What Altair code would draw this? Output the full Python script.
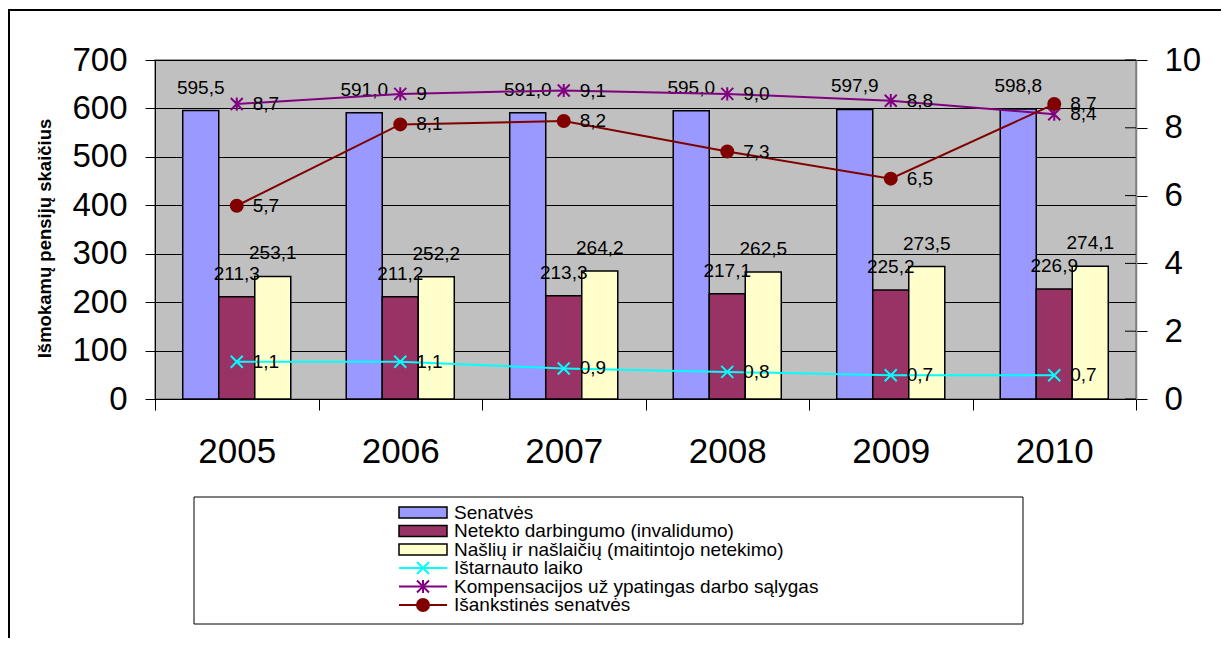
import altair as alt
import pandas as pd

# ---------------- data ----------------
years = ["2005", "2006", "2007", "2008", "2009", "2010"]

senatves = [595.5, 591.0, 591.0, 595.0, 597.9, 598.8]
netekto = [211.3, 211.2, 213.3, 217.1, 225.2, 226.9]
nasliu = [253.1, 252.2, 264.2, 262.5, 273.5, 274.1]

istarnauto = [1.1, 1.1, 0.9, 0.8, 0.7, 0.7]
kompensacijos = [8.7, 9.0, 9.1, 9.0, 8.8, 8.4]
isankstines = [5.7, 8.1, 8.2, 7.3, 6.5, 8.7]

istarnauto_labels = ["1,1", "1,1", "0,9", "0,8", "0,7", "0,7"]
kompensacijos_labels = ["8,7", "9", "9,1", "9,0", "8,8", "8,4"]
isankstines_labels = ["5,7", "8,1", "8,2", "7,3", "6,5", "8,7"]

bar_series = ["Senatvės",
              "Netekto darbingumo (invalidumo)",
              "Našlių ir našlaičių (maitintojo netekimo)"]
line_series = ["Ištarnauto laiko",
               "Kompensacijos už ypatingas darbo sąlygas",
               "Išankstinės senatvės"]
series_colors = ["#9999FF", "#993366", "#FFFFCC", "#00FFFF", "#800080", "#800000"]

left_ticks = [0, 100, 200, 300, 400, 500, 600, 700]
right_ticks = [0, 2, 4, 6, 8, 10]
y_title = "Išmokamų pensijų skaičius"

# ---------------- tables ----------------
bar_rows = []
for name, vals in zip(bar_series, [senatves, netekto, nasliu]):
    for y, v in zip(years, vals):
        bar_rows.append({"year": y, "series": name, "value": v,
                         "label": f"{v:.1f}".replace(".", ",")})
bar_df = pd.DataFrame(bar_rows)

line_rows = []
for name, vals, labs in zip(line_series,
                            [istarnauto, kompensacijos, isankstines],
                            [istarnauto_labels, kompensacijos_labels, isankstines_labels]):
    for y, v, l in zip(years, vals, labs):
        line_rows.append({"year": y, "series": name, "value": v, "label": l})
line_df = pd.DataFrame(line_rows)

all_series = bar_series + line_series
legend_df = pd.DataFrame({"series": all_series,
                          "row": list(range(len(all_series)))})
legend_df["lo"] = legend_df["row"] - 0.3
legend_df["hi"] = legend_df["row"] + 0.3
legend_bars = legend_df[legend_df["series"].isin(bar_series)]
legend_lines = legend_df[legend_df["series"].isin(line_series)]

rtick_df = pd.DataFrame({"value": right_ticks})
one = pd.DataFrame({"a": [0]})

# ---------------- scales / encodings ----------------
FONT = "Liberation Sans"
X_PATH = "M-1,-1L1,1M-1,1L1,-1"
STAR_PATH = "M-1,-1L1,1M-1,1L1,-1M0,-1.1L0,1.1"

color_scale = alt.Scale(domain=all_series, range=series_colors)
shape_scale = alt.Scale(domain=line_series, range=[X_PATH, STAR_PATH, "circle"])
size_scale = alt.Scale(domain=line_series, range=[144, 144, 64])

x_enc = alt.X("year:N", sort=years,
              scale=alt.Scale(paddingInner=0, paddingOuter=0),
              axis=alt.Axis(title=None, labelAngle=0, tickBand="extent",
                            tickSize=11, tickColor="black", domainColor="black",
                            labelFontSize=35, labelPadding=24, labelColor="black",
                            labelFont=FONT, grid=False))
xoff_enc = alt.XOffset("series:N", sort=bar_series,
                       scale=alt.Scale(domain=bar_series, paddingInner=0, paddingOuter=0.77))

y_left = alt.Y("value:Q", scale=alt.Scale(domain=[0, 700], nice=False),
               axis=alt.Axis(orient="left", values=left_ticks, grid=True,
                             gridColor="black", gridWidth=1, tickColor="black",
                             tickSize=10, domainColor="black", labelFontSize=33,
                             labelPadding=18, labelColor="black", labelFont=FONT,
                             title=y_title, titleFont=FONT, titleFontSize=18.5,
                             titleFontWeight="bold", titleX=-105, titleY=178,
                             titleBaseline="alphabetic", titleAngle=270,
                             titleAlign="center", titleColor="black"))

y_right_scale = alt.Scale(domain=[0, 10], nice=False)
right_axis = alt.Axis(orient="right", values=right_ticks, grid=False,
                      tickColor="black", tickSize=11, domainColor="#808080",
                      domainWidth=1.5, labelFontSize=33, labelPadding=17,
                      labelColor="black", labelFont=FONT, title=None)
y_right = alt.Y("value:Q", scale=y_right_scale, axis=right_axis)

# ---------------- bars ----------------
bars = alt.Chart(bar_df).mark_bar(stroke="black", strokeWidth=1.5).encode(
    x=x_enc, xOffset=xoff_enc, y=y_left,
    color=alt.Color("series:N", scale=color_scale, legend=None),
)
bar_text = alt.Chart(bar_df).mark_text(baseline="alphabetic", dy=-17, fontSize=19,
                                       color="black", font=FONT).encode(
    x=x_enc, xOffset=xoff_enc, y=y_left, text="label:N",
)
bar_group = alt.layer(bars, bar_text)

# ---------------- lines ----------------
inner_ticks = alt.Chart(rtick_df).mark_rule(color="black", strokeWidth=1).encode(
    y=y_right, x=alt.value(970), x2=alt.value(981),
)
lines = alt.Chart(line_df).mark_line(strokeWidth=2).encode(
    x=x_enc, y=y_right,
    color=alt.Color("series:N", scale=color_scale, legend=None),
)
points = alt.Chart(line_df).mark_point(filled=True, strokeWidth=2, opacity=1).encode(
    x=x_enc, y=y_right,
    color=alt.Color("series:N", scale=color_scale, legend=None),
    stroke=alt.Stroke("series:N", scale=color_scale, legend=None),
    shape=alt.Shape("series:N", scale=shape_scale, legend=None),
    size=alt.Size("series:N", scale=size_scale, legend=None),
)
line_text = alt.Chart(line_df).mark_text(align="left", baseline="middle", dx=16,
                                         fontSize=19, color="black", font=FONT).encode(
    x=x_enc, y=y_right, text="label:N",
)
line_group = alt.layer(inner_ticks, lines, points, line_text)

# ---------------- legend ----------------
leg_y_scale = alt.Scale(domain=[0, 5], range=[452.5, 545], nice=False, zero=False)

frame = alt.Chart(one).mark_rect(fillOpacity=0, stroke="black", strokeWidth=2).encode(
    x=alt.value(-146), x2=alt.value(1067), y=alt.value(-50), y2=alt.value(600))
legend_box = alt.Chart(one).mark_rect(fill="white", stroke="black", strokeWidth=1).encode(
    x=alt.value(39), x2=alt.value(868), y=alt.value(437), y2=alt.value(564))
leg_swatch = alt.Chart(legend_bars).mark_rect(stroke="black", strokeWidth=1.5).encode(
    y=alt.Y("lo:Q", scale=leg_y_scale, axis=None), y2="hi:Q",
    x=alt.value(244), x2=alt.value(292),
    color=alt.Color("series:N", scale=color_scale, legend=None),
)
leg_rule = alt.Chart(legend_lines).mark_rule(strokeWidth=2).encode(
    y=alt.Y("row:Q", scale=leg_y_scale, axis=None),
    x=alt.value(244), x2=alt.value(292),
    color=alt.Color("series:N", scale=color_scale, legend=None),
)
leg_point = alt.Chart(legend_lines).mark_point(filled=True, strokeWidth=2, opacity=1).encode(
    y=alt.Y("row:Q", scale=leg_y_scale, axis=None),
    x=alt.value(268),
    color=alt.Color("series:N", scale=color_scale, legend=None),
    stroke=alt.Stroke("series:N", scale=color_scale, legend=None),
    shape=alt.Shape("series:N", scale=shape_scale, legend=None),
    size=alt.Size("series:N", scale=size_scale, legend=None),
)
leg_text = alt.Chart(legend_df).mark_text(align="left", baseline="middle", fontSize=19,
                                          color="black", font=FONT).encode(
    y=alt.Y("row:Q", scale=leg_y_scale, axis=None),
    x=alt.value(299), text="series:N",
)
legend_group = alt.layer(frame, legend_box, leg_swatch, leg_rule, leg_point, leg_text)

chart = alt.layer(bar_group, line_group, legend_group).resolve_scale(
    y="independent"
).properties(
    width=981, height=339,
    autosize=alt.AutoSizeParams(type="none"),
    padding={"left": 147, "top": 52, "right": 85, "bottom": 239},
    background="white",
).configure(
    font=FONT
).configure_view(
    fill="#C0C0C0", stroke="#808080", strokeWidth=1.5
)

chart.save("out.html", embed_options={"renderer": "svg", "actions": False})
